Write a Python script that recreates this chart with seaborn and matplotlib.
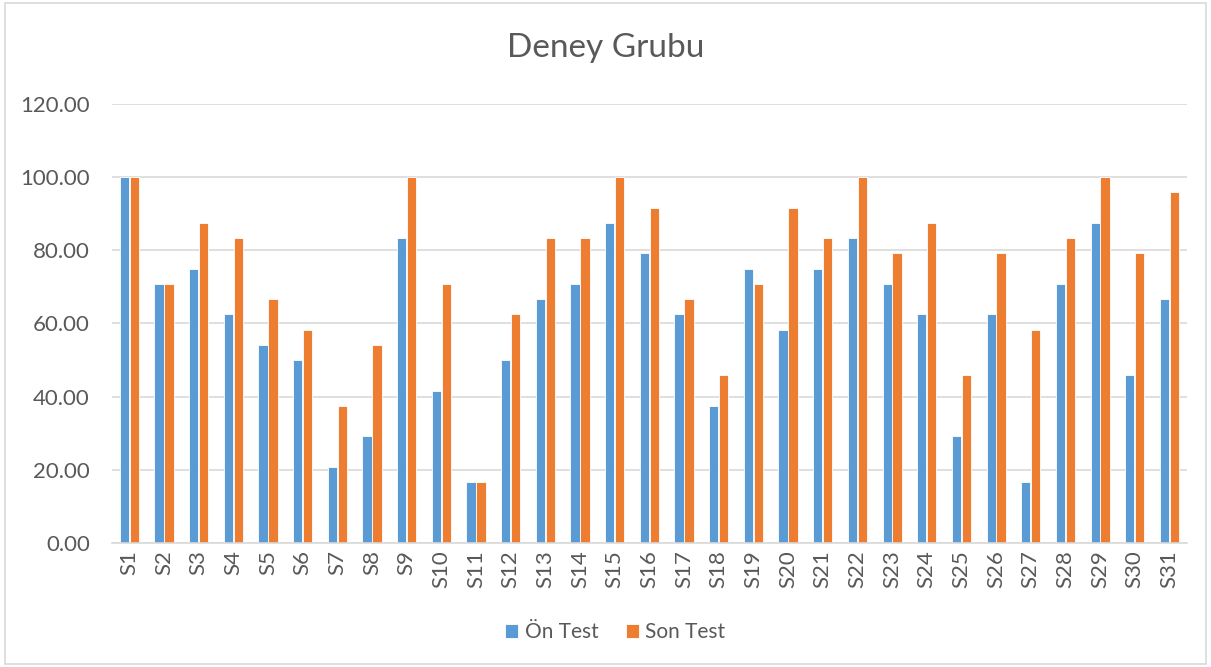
import pandas as pd
import matplotlib
matplotlib.use("Agg")
import matplotlib.pyplot as plt
import seaborn as sns
from matplotlib.patches import Rectangle

# Data
students = [f"S{i}" for i in range(1, 32)]
on_test = [100, 70.83, 75, 62.5, 54.17, 50, 20.83, 29.17, 83.33, 41.67,
           16.67, 50, 66.67, 70.83, 87.5, 79.17, 62.5, 37.5, 75, 58.33,
           75, 83.33, 70.83, 62.5, 29.17, 62.5, 16.67, 70.83, 87.5, 45.83,
           66.67]
son_test = [100, 70.83, 87.5, 83.33, 66.67, 58.33, 37.5, 54.17, 100, 70.83,
            16.67, 62.5, 83.33, 83.33, 100, 91.67, 66.67, 45.83, 70.83, 91.67,
            83.33, 100, 79.17, 87.5, 45.83, 79.17, 58.33, 83.33, 100, 79.17,
            95.83]
series_names = ["Ön Test", "Son Test"]
y_ticks = [0, 20, 40, 60, 80, 100, 120]

df = pd.DataFrame({
    "Öğrenci": students * 2,
    "Puan": on_test + son_test,
    "Test": [series_names[0]] * len(students) + [series_names[1]] * len(students),
})

sns.set_theme(style="white")
plt.rcParams["font.family"] = ["Lato", "DejaVu Sans"]

fig = plt.figure(figsize=(12.11, 6.67), dpi=100)
ax = fig.add_axes([0.0925, 0.186, 0.8875, 0.658])

sns.barplot(data=df, x="Öğrenci", y="Puan", hue="Test",
            palette=["#5B9BD5", "#ED7D31"], saturation=1, width=0.57, gap=0.06,
            edgecolor="white", linewidth=0.6, ax=ax, legend=True)

ax.set_xlim(-0.5, len(students) - 0.5)
ax.set_ylim(0, 120)
ax.set_yticks(y_ticks)
ax.set_yticklabels([f"{v:.2f}" for v in y_ticks], fontsize=16, color="#595959")
ax.tick_params(axis="x", labelrotation=90, labelsize=16, colors="#595959", length=0, pad=5)
ax.tick_params(axis="y", length=0, pad=16)
ax.yaxis.grid(True, color="#D9D9D9", linewidth=1.2)
ax.set_axisbelow(True)
for side in ["top", "right", "left"]:
    ax.spines[side].set_visible(False)
ax.spines["bottom"].set_color("#D9D9D9")
ax.spines["bottom"].set_linewidth(1.2)
ax.set_xlabel("")
ax.set_ylabel("")

fig.suptitle("Deney Grubu", y=0.95, fontsize=24, color="#595959")

handles, labels = ax.get_legend_handles_labels()
ax.legend_.remove()
fig.legend(handles, labels, loc="center", bbox_to_anchor=(0.508, 0.052), ncol=2,
           frameon=False, fontsize=15, labelcolor="#595959",
           handlelength=0.65, handleheight=0.65, handletextpad=0.3, columnspacing=1.3)

fig.patches.append(Rectangle((0.004, 0.004), 0.992, 0.992, transform=fig.transFigure,
                             fill=False, edgecolor="#D9D9D9", linewidth=1.2))

fig.savefig("out.png", dpi=100, facecolor="white")
